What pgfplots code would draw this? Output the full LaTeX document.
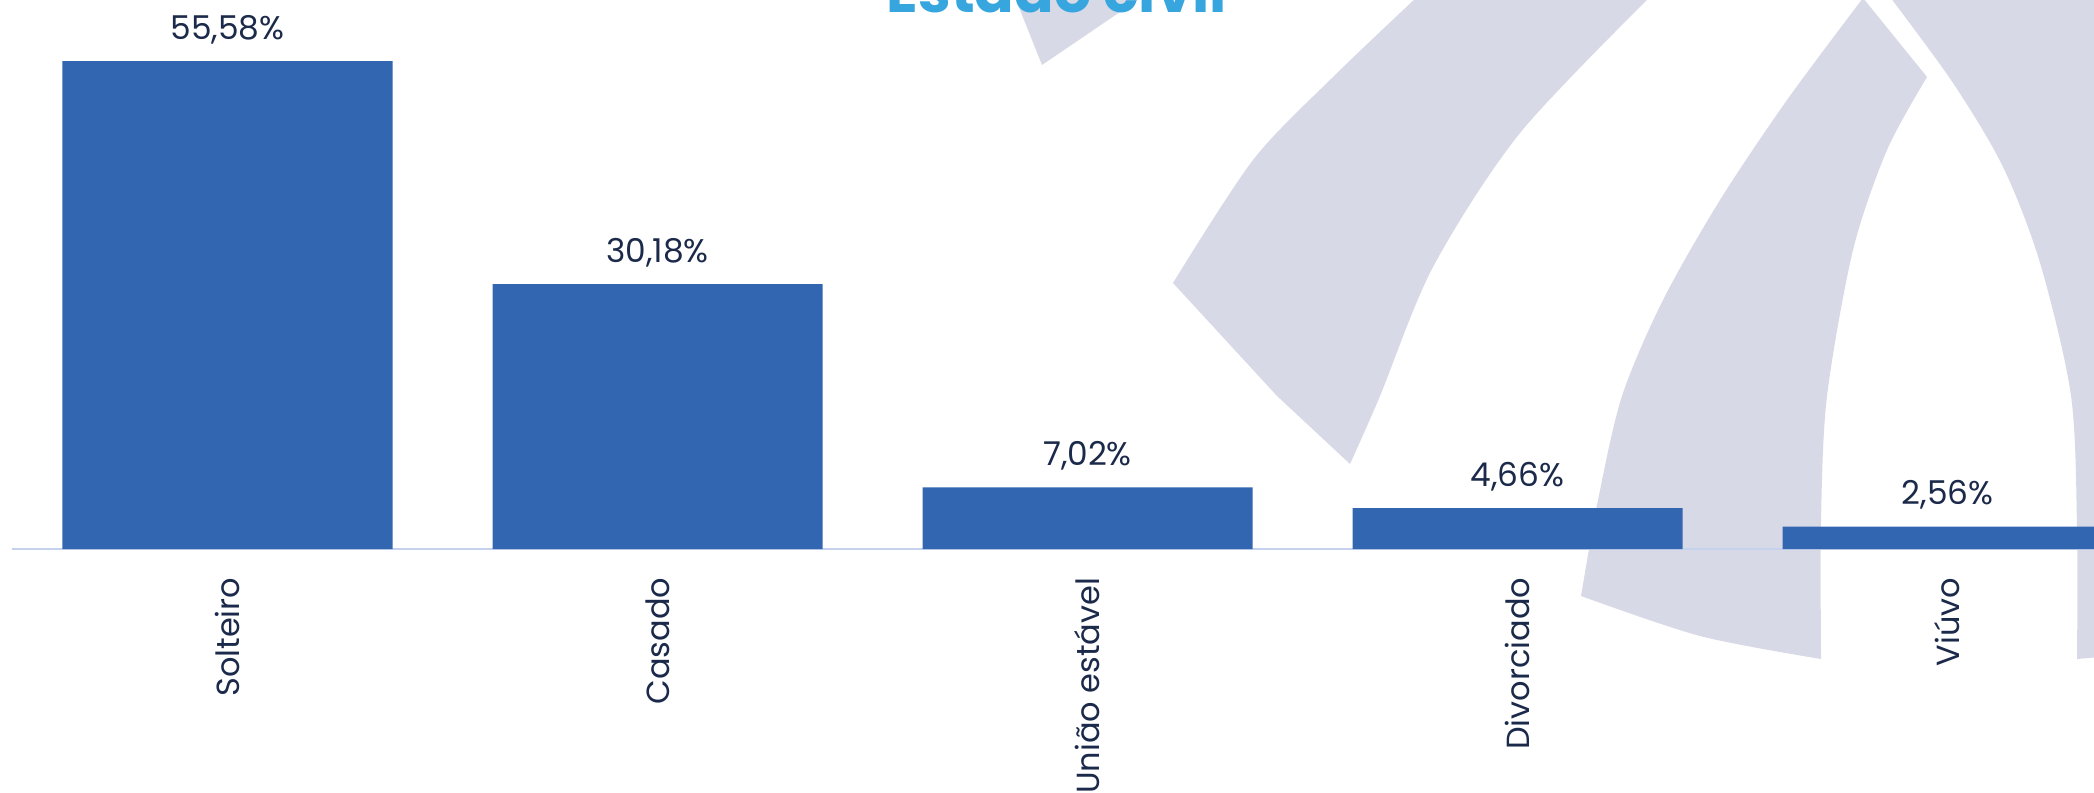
\documentclass[border=0pt]{standalone}
\usepackage{fontspec}
\setmainfont{Poppins}
\usepackage{pgfplots}
\pgfplotsset{compat=1.18}
\definecolor{barblue}{RGB}{51,102,177}
\definecolor{navy}{RGB}{27,42,74}
\definecolor{wm}{RGB}{215,217,230}
\definecolor{titleblue}{RGB}{56,166,222}
\definecolor{axisblue}{RGB}{196,210,238}
\begin{document}
\begin{tikzpicture}
% background watermark (decoration), coordinates in reference pixels from top-left
\begin{scope}[shift={(0pt,198pt)},x=0.25pt,y=-0.25pt]
  \fill[wm] (1014,-5) -- (1042,65) -- (1145,-5) -- cycle;
  \fill[wm] plot[smooth] coordinates {(1417,-3) (1333,77) (1253,160) (1173,283)}
     -- (1277,396) -- (1350,464)
     -- plot[smooth] coordinates {(1350,464) (1380,396) (1433,267) (1520,133) (1650,-3)} -- cycle;
  \fill[wm] (1863,-2) -- plot[smooth] coordinates {(1863,-2) (1787,100) (1720,200) (1663,300) (1622,396) (1598,500) (1581,596)}
     -- plot[smooth] coordinates {(1581,596) (1700,636) (1821,659)}
     -- plot[smooth] coordinates {(1821,659) (1821,520) (1827,396) (1853,250) (1887,150) (1927,77)} -- cycle;
  \fill[wm] plot[smooth] coordinates {(1890,-3) (1953,83) (2003,167) (2040,263) (2071,396) (2077,530) (2077,659)}
     -- (2100,657) -- (2100,-3) -- cycle;
\end{scope}
\begin{axis}[
  at={(3.125pt,60.75pt)}, anchor=south west,
  x=107.5pt, y=2.195pt,
  xmin=-0.5, xmax=4.6, ymin=0, ymax=62,
  axis y line=none,
  axis x line*=bottom,
  x axis line style={draw=axisblue, line width=0.55pt, -},
  xtick=data,
  xticklabels={Solteiro,Casado,União estável,Divorciado,Viúvo},
  major tick length=0pt,
  xtick style={draw=none},
  xticklabel style={rotate=90, anchor=east, inner sep=0pt, font=\fontsize{8.0}{10}\selectfont, text=navy},
  xticklabel shift=7pt,
  ybar, bar width=82.5pt,
  /pgf/number format/assume math mode=true,
  nodes near coords={\pgfmathprintnumber[fixed,fixed zerofill,precision=2,use comma]{\pgfplotspointmeta}\%},
  nodes near coords style={anchor=base, yshift=5.5pt, inner sep=0pt, font=\fontsize{8.2}{10}\selectfont, text=navy},
  clip=false,
]
\addplot[fill=barblue, draw=none] coordinates {(0,55.58) (1,30.18) (2,7.02) (3,4.66) (4,2.56)};
\end{axis}
\node[anchor=base, inner sep=0pt, font=\bfseries\fontsize{14.6}{18}\selectfont, text=titleblue] at (264.25pt,194.75pt) {Estado civil};
\pgfresetboundingbox
\path[use as bounding box] (0,0) rectangle (523.5pt,198pt);
\end{tikzpicture}
\end{document}
